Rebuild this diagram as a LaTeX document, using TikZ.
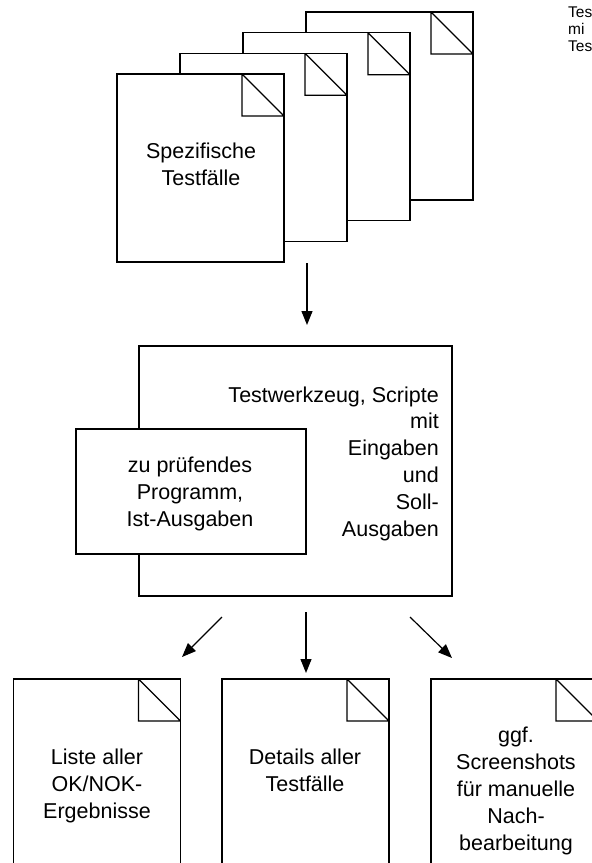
\documentclass[tikz,border=0pt]{standalone}
\usepackage{fontspec}
\setmainfont{Liberation Sans}
\usetikzlibrary{arrows.meta}

\tikzset{
  ln/.style={line width=1.2pt},
  docpage/.style={ln, draw, fill=white, rectangle, anchor=north west,
    minimum width=167pt, minimum height=188pt, inner sep=0pt, outer sep=0pt,
    path picture={
      \draw[ln] ([xshift=-42pt]path picture bounding box.north east)
        -- ([xshift=-42pt,yshift=-42pt]path picture bounding box.north east)
        -- ([yshift=-42pt]path picture bounding box.north east)
        -- cycle;
    }},
  plainbox/.style={ln, draw, fill=white, rectangle, anchor=north west,
    inner sep=0pt, outer sep=0pt},
  % multi-line labels are placed by the baseline of their last line
  lbl/.style={font=\fontsize{21.5}{26.8}\selectfont, align=center,
    inner sep=0pt, anchor=base},
  smalllbl/.style={font=\fontsize{15.5}{17}\selectfont, align=left,
    inner sep=0pt, anchor=base west},
  arr/.style={ln, -{Triangle[length=14pt,width=11pt]}},
}

\begin{document}
\begin{tikzpicture}[x=1pt,y=-1pt]
\useasboundingbox (0,0) rectangle (592,863);
\clip (0,0) rectangle (592,863);

% stack of test case sheets, back to front
\node[docpage] (page4) at (306,12) {};
\node[docpage] (page3) at (243,32.7) {};
\node[docpage] (page2) at (180,53.3) {};
\node[docpage] (page1) at (117,74) {};
\node[lbl] (spez) at (201,185) {Spezifische\\Testfälle};

% test tool with the program under test
\node[plainbox, minimum width=313pt, minimum height=250pt] (tool) at (139,346) {};
\node[lbl, align=right, anchor=base east] (tooltext) at (439,536)
  {Testwerkzeug, Scripte\\mit\\Eingaben\\und\\Soll-\\Ausgaben};
\node[plainbox, minimum width=230pt, minimum height=125pt] (prog) at (76,429) {};
\node[lbl] (progtext) at (190,526) {zu prüfendes\\Programm,\\Ist-Ausgaben};

% result documents
\node[docpage] (res1) at (13.5,679) {};
\node[docpage] (res2) at (222,679) {};
\node[docpage] (res3) at (431,679) {};
\node[lbl] (res1text) at (97,818) {Liste aller\\OK/NOK-\\Ergebnisse};
\node[lbl] (res2text) at (305,791) {Details aller\\Testfälle};
\node[lbl] (res3text) at (516,850) {ggf.\\Screenshots\\für manuelle\\Nach-\\bearbeitung};

% side note
\node[smalllbl] (note) at (568,51) {Tes\\mi\\Tes};

% flow arrows
\coordinate (a0s) at (307,263);
\coordinate (a0e) at (307,325);
\coordinate (a1s) at (222,617);
\coordinate (a1e) at (182,657);
\coordinate (a2s) at (306,612);
\coordinate (a2e) at (306,673);
\coordinate (a3s) at (410,617);
\coordinate (a3e) at (452,658);
\draw[arr] (a0s) -- (a0e);
\draw[arr] (a1s) -- (a1e);
\draw[arr] (a2s) -- (a2e);
\draw[arr] (a3s) -- (a3e);
\end{tikzpicture}
\end{document}
